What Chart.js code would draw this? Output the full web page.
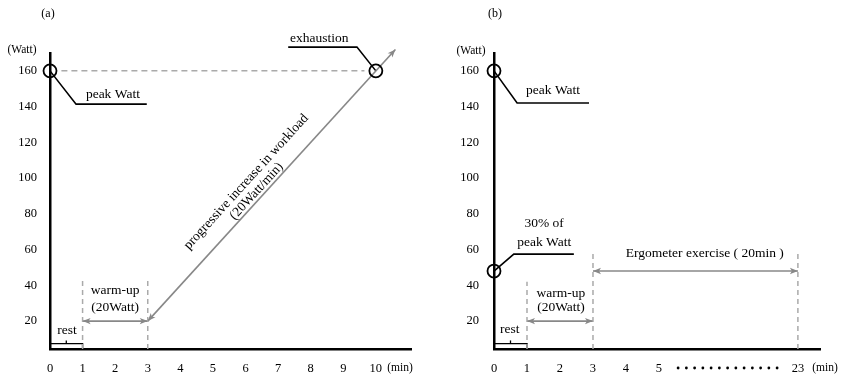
<!DOCTYPE html>
<html>
<head>
<meta charset="utf-8">
<script src="https://cdn.jsdelivr.net/npm/chart.js@4.4.1/dist/chart.umd.min.js"></script>
<style>
  body { margin: 0; background: #fff; }
  #wrap { position: relative; width: 841px; height: 376px; }
  .panel { position: absolute; top: 0; height: 376px; }
  #pa { left: 0; width: 420px; }
  #pb { left: 420px; width: 421px; }
</style>
</head>
<body>
<div id="wrap">
  <div class="panel" id="pa"><canvas id="chart-a"></canvas></div>
  <div class="panel" id="pb"><canvas id="chart-b"></canvas></div>
</div>
<script>
// Exercise protocol schematics: (a) incremental test, (b) ergometer session

// --- values ---
const wattTicks = [20, 40, 60, 80, 100, 120, 140, 160];
const minuteTicksA = [0, 1, 2, 3, 4, 5, 6, 7, 8, 9, 10];
const minuteTicksB = [0, 1, 2, 3, 4, 5, 23];

const restEnd = 1;            // min
const warmupEnd = 3;          // min
const warmupWatt = 20;
const peakWatt = 160;
const exhaustionMin = 10;
const rampTip = [10.6, 172];  // arrow tip past exhaustion (min, Watt)
const lowWatt = 48;           // 30% of peak Watt
const exerciseEnd = 23;       // min

const SERIF = '"Liberation Serif", "Times New Roman", serif';
const Y_MIN = 4.4, Y_MAX = 170;
const DASH = '#aaa', ARROW = '#888', INK = '#000';

// panel (b) has a broken time axis: 5 .. 23 min squeezed
function posB(min) {
    return min <= 5 ? min : 5 + (min - 5) * (9.21 - 5) / (23 - 5);
}

function seg(points, color, width, extra) {
    return Object.assign({
        data: points.map(([x, y]) => ({ x, y })),
        showLine: true,
        pointRadius: 0,
        pointHoverRadius: 0,
        borderColor: color,
        borderWidth: width,
        fill: false,
        clip: false
    }, extra || {});
}

function rings(points) {
    return {
        data: points.map(([x, y]) => ({ x, y })),
        showLine: false,
        pointRadius: 6.5,
        pointHoverRadius: 6.5,
        borderColor: '#000',
        backgroundColor: 'rgba(0,0,0,0)',
        borderWidth: 1.8,
        clip: false
    };
}

function drawHead(ctx, from, to, color) {
    const ang = Math.atan2(to.y - from.y, to.x - from.x);
    ctx.save();
    ctx.translate(to.x, to.y);
    ctx.rotate(ang);
    ctx.fillStyle = color;
    ctx.beginPath();
    ctx.moveTo(0, 0);
    ctx.lineTo(-8, -3.2);
    ctx.lineTo(-6, 0);
    ctx.lineTo(-8, 3.2);
    ctx.closePath();
    ctx.fill();
    ctx.restore();
}

// arrowheads on datasets flagged with `arrows`
const arrowPlugin = {
    id: 'arrowHeads',
    afterDatasetsDraw(chart) {
        const ctx = chart.ctx;
        chart.data.datasets.forEach((ds, i) => {
            if (!ds.arrows) return;
            const pts = chart.getDatasetMeta(i).data;
            const n = pts.length;
            drawHead(ctx, pts[n - 2], pts[n - 1], ds.borderColor);
            drawHead(ctx, pts[1], pts[0], ds.borderColor);
        });
    }
};

// text notes, panel tag, unit labels
const notesPlugin = {
    id: 'notes',
    afterDraw(chart, args, opts) {
        const { ctx, scales: { x, y } } = chart;
        ctx.save();
        ctx.fillStyle = INK;
        ctx.textAlign = 'center';
        ctx.textBaseline = 'middle';

        (opts.items || []).forEach(it => {
            ctx.font = `13.5px ${SERIF}`;
            ctx.fillText(it.text, x.getPixelForValue(it.x), y.getPixelForValue(it.y));
        });

        if (opts.ramp) {
            const r = opts.ramp;
            const x0 = x.getPixelForValue(r.from[0]), y0 = y.getPixelForValue(r.from[1]);
            const x1 = x.getPixelForValue(r.to[0]), y1 = y.getPixelForValue(r.to[1]);
            const ang = Math.atan2(y1 - y0, x1 - x0);
            const t = (r.at - r.from[0]) / (r.to[0] - r.from[0]);
            const cx = x0 + (x1 - x0) * t, cy = y0 + (y1 - y0) * t;
            ctx.font = `13.5px ${SERIF}`;
            r.lines.forEach(([text, off]) => {
                ctx.save();
                ctx.translate(cx + Math.sin(ang) * off, cy - Math.cos(ang) * off);
                ctx.rotate(ang);
                ctx.fillText(text, 0, 0);
                ctx.restore();
            });
        }

        if (opts.dots) {
            const a = x.getPixelForValue(opts.dots.from), b = x.getPixelForValue(opts.dots.to);
            const n = opts.dots.count;
            for (let i = 0; i < n; i++) {
                ctx.beginPath();
                ctx.arc(a + (b - a) * i / (n - 1), opts.dots.y, 1.4, 0, Math.PI * 2);
                ctx.fill();
            }
        }

        ctx.font = `11.5px ${SERIF}`;
        ctx.fillText('(Watt)', opts.watt[0], opts.watt[1]);
        ctx.fillText('(min)', opts.min[0], opts.min[1]);
        ctx.font = `12px ${SERIF}`;
        ctx.fillText(opts.tag, opts.tagAt[0], opts.tagAt[1]);
        ctx.restore();
    }
};

function makeChart(id, cfg) {
    return new Chart(document.getElementById(id), {
        type: 'scatter',
        data: { datasets: cfg.datasets },
        options: {
            responsive: true,
            maintainAspectRatio: false,
            animation: false,
            events: [],
            layout: { padding: { top: 53, right: cfg.padRight, left: 0, bottom: 0 } },
            plugins: {
                legend: { display: false },
                tooltip: { enabled: false },
                notes: cfg.notes
            },
            scales: {
                x: {
                    type: 'linear',
                    min: 0,
                    max: cfg.xMax,
                    grid: { display: false, drawTicks: false },
                    border: { color: '#000', width: 2.5 },
                    ticks: {
                        autoSkip: false,
                        maxRotation: 0,
                        padding: 12,
                        color: INK,
                        font: { family: SERIF, size: 12.5 },
                        callback: cfg.xLabel
                    },
                    afterBuildTicks: s => { s.ticks = cfg.xTicks.map(v => ({ value: v })); },
                    afterFit: s => { s.height = 27; }
                },
                y: {
                    type: 'linear',
                    min: Y_MIN,
                    max: Y_MAX,
                    grid: { display: false, drawTicks: false },
                    border: { color: '#000', width: 2.5 },
                    ticks: {
                        padding: cfg.yPad,
                        color: INK,
                        font: { family: SERIF, size: 12.5 }
                    },
                    afterBuildTicks: s => { s.ticks = wattTicks.map(v => ({ value: v })); },
                    afterFit: s => { s.width = cfg.yWidth; }
                }
            }
        },
        plugins: [arrowPlugin, notesPlugin]
    });
}

// (a) incremental test to exhaustion
makeChart('chart-a', {
    xMax: 11.1,
    xTicks: minuteTicksA,
    xLabel: v => String(v),
    yWidth: 50,
    yPad: 13,
    padRight: 7,
    datasets: [
        rings([[0, peakWatt], [exhaustionMin, peakWatt]]),
        seg([[0.35, peakWatt], [exhaustionMin - 0.35, peakWatt]], DASH, 1.5, { borderDash: [6, 4] }),
        seg([[restEnd, Y_MIN], [restEnd, 43]], DASH, 1.5, { borderDash: [5, 4] }),
        seg([[warmupEnd, Y_MIN], [warmupEnd, 43]], DASH, 1.5, { borderDash: [5, 4] }),
        seg([[restEnd, warmupWatt], [warmupEnd, warmupWatt]], ARROW, 1.6, { arrows: true }),
        seg([[warmupEnd, warmupWatt], rampTip], ARROW, 1.6, { arrows: true }),
        seg([[0, peakWatt], [0.8, 141.4], [2.97, 141.4]], '#000', 1.6),
        seg([[exhaustionMin, peakWatt], [9.42, 173.3], [7.31, 173.3]], '#000', 1.6),
        seg([[0, Y_MIN], [0, 7.4], [restEnd, 7.4], [restEnd, Y_MIN]], '#000', 1.4),
        seg([[0.5, 7.4], [0.5, 9.2]], '#000', 1.3)
    ],
    notes: {
        tag: '(a)', tagAt: [48, 14],
        watt: [22, 50], min: [400, 368],
        items: [
            { text: 'peak Watt', x: 1.93, y: 147 },
            { text: 'exhaustion', x: 8.26, y: 178.3 },
            { text: 'warm-up', x: 2, y: 37.4 },
            { text: '(20Watt)', x: 2, y: 27.9 },
            { text: 'rest', x: 0.52, y: 15 }
        ],
        ramp: {
            from: [warmupEnd, warmupWatt], to: rampTip, at: 6.5,
            lines: [['progressive increase in workload', 21], ['(20Watt/min)', 7]]
        }
    }
});

// (b) constant-load ergometer session
makeChart('chart-b', {
    xMax: 9.88,
    xTicks: minuteTicksB.map(posB),
    xLabel: (v, i) => String(minuteTicksB[i]),
    yWidth: 74,
    yPad: 15,
    padRight: 21,
    datasets: [
        rings([[0, peakWatt], [0, lowWatt]]),
        seg([[restEnd, Y_MIN], [restEnd, 42]], DASH, 1.5, { borderDash: [5, 4] }),
        seg([[warmupEnd, Y_MIN], [warmupEnd, 58]], DASH, 1.5, { borderDash: [5, 4] }),
        seg([[posB(exerciseEnd), Y_MIN], [posB(exerciseEnd), 58]], DASH, 1.5, { borderDash: [5, 4] }),
        seg([[restEnd, warmupWatt], [warmupEnd, warmupWatt]], ARROW, 1.6, { arrows: true }),
        seg([[warmupEnd, lowWatt], [posB(exerciseEnd), lowWatt]], ARROW, 1.6, { arrows: true }),
        seg([[0, peakWatt], [0.7, 142], [2.88, 142]], '#000', 1.6),
        seg([[0, lowWatt], [0.6, 57.5], [2.42, 57.5]], '#000', 1.6),
        seg([[0, Y_MIN], [0, 7.4], [restEnd, 7.4], [restEnd, Y_MIN]], '#000', 1.4),
        seg([[0.5, 7.4], [0.5, 9.2]], '#000', 1.3)
    ],
    notes: {
        tag: '(b)', tagAt: [75, 14],
        watt: [51, 51], min: [405, 368],
        items: [
            { text: 'peak Watt', x: 1.79, y: 149 },
            { text: '30% of', x: 1.52, y: 74.8 },
            { text: 'peak Watt', x: 1.52, y: 64.2 },
            { text: 'Ergometer exercise ( 20min )', x: 6.39, y: 58 },
            { text: 'warm-up', x: 2.03, y: 35.7 },
            { text: '(20Watt)', x: 2.03, y: 27.4 },
            { text: 'rest', x: 0.48, y: 15.6 }
        ],
        dots: { from: 5.58, to: 8.58, count: 13, y: 368 }
    }
});
</script>
</body>
</html>
